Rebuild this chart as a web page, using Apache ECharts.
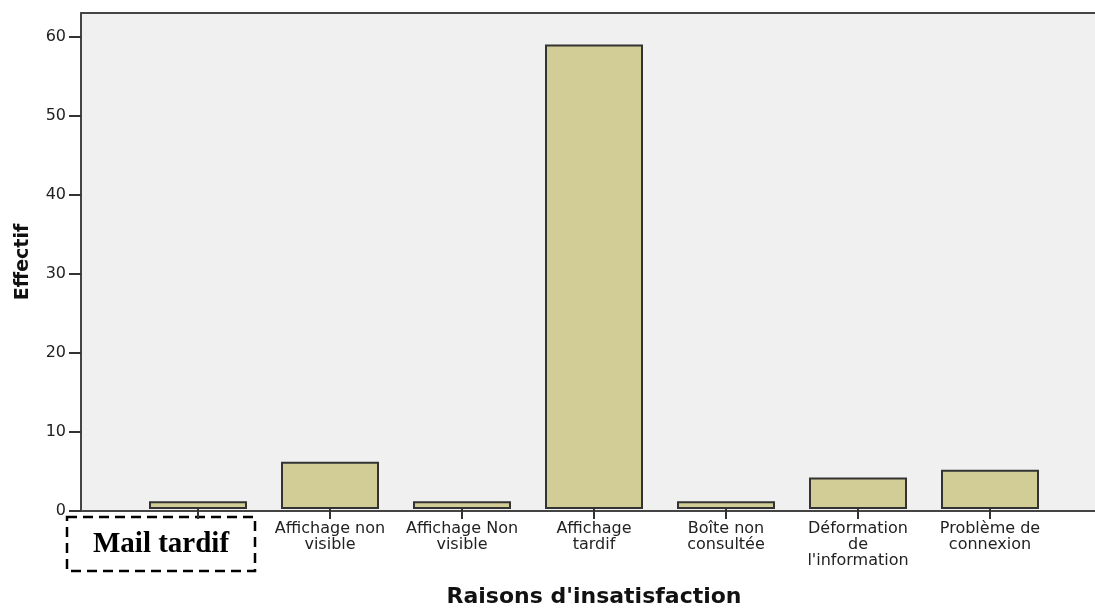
<!DOCTYPE html>
<html>
<head>
<meta charset="utf-8">
<script src="https://cdn.jsdelivr.net/npm/echarts@6/dist/echarts.min.js"></script>
<style>
html,body{margin:0;padding:0;background:#fff;}
#chart{width:1095px;height:613px;}
</style>
</head>
<body>
<div id="chart"></div>
<script>
const categories = ["Mail tardif", "Affichage non\nvisible", "Affichage Non\nvisible", "Affichage\ntardif", "Boîte non\nconsultée", "Déformation\nde\nl'information", "Problème de\nconnexion"];
const values = [1, 6, 1, 59, 1, 4, 5];
const yTicks = [0, 10, 20, 30, 40, 50, 60];
const yMax = 63;
const xTitle = "Raisons d'insatisfaction";
const yTitle = "Effectif";

const chart = echarts.init(document.getElementById('chart'));
const font = '"DejaVu Sans", sans-serif';
const frameLine = {show: true, onZero: false, lineStyle: {color: '#444', width: 2}};
chart.setOption({
  animation: false,
  backgroundColor: '#ffffff',
  grid: [
    {left: 81, top: 13, right: 0, height: 498, show: true, backgroundColor: '#f0f0f0', borderWidth: 0},
    {left: 132, top: 13, width: 924, height: 498}
  ],
  xAxis: [
    {gridIndex: 0, type: 'category', data: categories, position: 'top',
      axisLine: frameLine, axisTick: {show: false}, axisLabel: {show: false}, splitLine: {show: false}},
    {gridIndex: 1, type: 'category', data: categories,
      axisLine: {show: false},
      axisTick: {show: true, alignWithLabel: true, length: 10, lineStyle: {color: '#333', width: 2}},
      axisLabel: {interval: 0, margin: 12, color: '#222', fontFamily: font, fontSize: 16, lineHeight: 16,
        formatter: function (v, i) { return i === 0 ? '' : v; }},
      name: xTitle, nameLocation: 'middle', nameGap: 77,
      nameTextStyle: {fontFamily: font, fontWeight: 'bold', fontSize: 22, color: '#111'}
    },
    {gridIndex: 0, type: 'category', data: categories, position: 'bottom',
      axisLine: frameLine, axisTick: {show: false}, axisLabel: {show: false}, splitLine: {show: false}}
  ],
  yAxis: [
    {gridIndex: 0, type: 'value', min: 0, max: yMax, interval: 10,
      axisLine: {show: true, lineStyle: {color: '#444', width: 2}},
      axisTick: {show: true, length: 12, customValues: yTicks, lineStyle: {color: '#333', width: 2}},
      axisLabel: {customValues: yTicks, margin: 15, color: '#222', fontFamily: font, fontSize: 16},
      splitLine: {show: false},
      name: yTitle, nameLocation: 'middle', nameGap: 48, nameRotate: 90,
      nameTextStyle: {fontFamily: font, fontWeight: 'bold', fontSize: 19, color: '#111'}
    },
    {gridIndex: 1, type: 'value', min: 0, max: yMax, show: false, splitLine: {show: false}}
  ],
  series: [{
    type: 'bar', xAxisIndex: 1, yAxisIndex: 1, data: values, barWidth: 98,
    itemStyle: {color: '#d2cd96', borderColor: '#333', borderWidth: 2}
  }],
  graphic: [{
    type: 'group', z: 100,
    children: [
      {type: 'rect', shape: {x: 67, y: 517, width: 188, height: 54},
        style: {fill: 'rgba(0,0,0,0)', stroke: '#000', lineWidth: 2.5, lineDash: [10, 6]}},
      {type: 'text', x: 161, y: 545,
        style: {text: categories[0], align: 'center', verticalAlign: 'middle',
          font: 'bold 29px "Liberation Serif", "Times New Roman", serif', fill: '#000'}}
    ]
  }]
});
</script>
</body>
</html>
